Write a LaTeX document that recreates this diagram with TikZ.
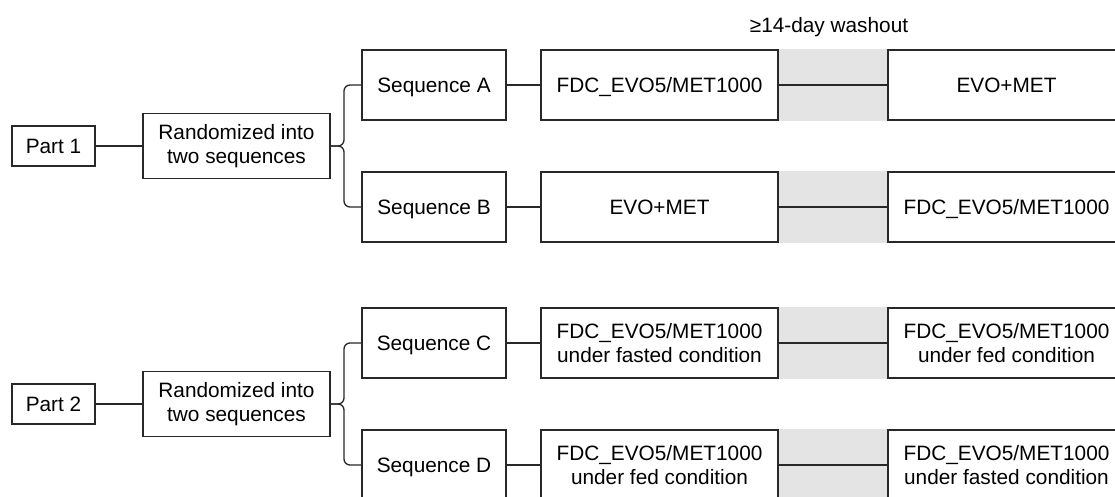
\documentclass[tikz,border=0pt]{standalone}
\usepackage{fontspec}
\setmainfont{Liberation Sans}
\usetikzlibrary{backgrounds}
\definecolor{linegray}{RGB}{40,40,40}
\definecolor{washgray}{RGB}{228,228,228}
\begin{document}
\begin{tikzpicture}[x=1pt,y=-1pt,
  font=\fontsize{20.8}{24.6}\selectfont,
  box/.style={draw=linegray, line width=1.3pt, fill=white, align=center, inner sep=0pt},
  oneline/.style={text height=14.9pt, text depth=0pt},
  partbox/.style={box, oneline, minimum width=83pt, minimum height=40pt},
  randbox/.style={box, minimum width=187pt, minimum height=65pt},
  seqbox/.style={box, oneline, minimum width=144pt, minimum height=70pt},
  treatbox/.style={box, minimum width=237pt, minimum height=70pt},
  conn/.style={draw=linegray, line width=1.3pt},
  brace/.style={conn, rounded corners=6pt}]
\useasboundingbox (0,0) rectangle (1115,497);
\clip (0,0) rectangle (1115,497);

\node[oneline] (wash) at (829,25) {≥14-day washout};

% Part 1
\node[partbox] (p1) at (53.5,146) {Part 1};
\node[randbox] (r1) at (236.5,146) {Randomized into\\two sequences};
\node[seqbox] (sA) at (434,85) {Sequence A};
\node[seqbox] (sB) at (434,207) {Sequence B};
\node[treatbox, oneline] (a1) at (659.5,85) {FDC\_EVO5/MET1000};
\node[treatbox, oneline] (a2) at (1006.5,85) {EVO+MET};
\node[treatbox, oneline] (b1) at (659.5,207) {EVO+MET};
\node[treatbox, oneline] (b2) at (1006.5,207) {FDC\_EVO5/MET1000};

% Part 2
\node[partbox] (p2) at (53.5,404) {Part 2};
\node[randbox] (r2) at (236.5,404) {Randomized into\\two sequences};
\node[seqbox] (sC) at (434,343) {Sequence C};
\node[seqbox] (sD) at (434,465) {Sequence D};
\node[treatbox] (c1) at (659.5,343) {FDC\_EVO5/MET1000\\under fasted condition};
\node[treatbox] (c2) at (1006.5,343) {FDC\_EVO5/MET1000\\under fed condition};
\node[treatbox] (d1) at (659.5,465) {FDC\_EVO5/MET1000\\under fed condition};
\node[treatbox] (d2) at (1006.5,465) {FDC\_EVO5/MET1000\\under fasted condition};

\begin{pgfonlayer}{background}
  \foreach \l/\r in {a1/a2,b1/b2,c1/c2,d1/d2}{
    \fill[washgray] (\l.north east) rectangle (\r.south west);
  }
\end{pgfonlayer}

% connectors
\draw[conn] (p1.east) -- (r1.west);
\draw[conn] (p2.east) -- (r2.west);
\foreach \s/\a/\b in {sA/a1/a2,sB/b1/b2,sC/c1/c2,sD/d1/d2}{
  \draw[conn] (\s.east) -- (\a.west);
  \draw[conn] (\a.east) -- (\b.west);
}
% braces
\draw[brace] (sA.west) -- (344,85) -- (344,146) -- (r1.east);
\draw[brace] (sB.west) -- (344,207) -- (344,146) -- (r1.east);
\draw[brace] (sC.west) -- (344,343) -- (344,404) -- (r2.east);
\draw[brace] (sD.west) -- (344,465) -- (344,404) -- (r2.east);
\end{tikzpicture}
\end{document}
